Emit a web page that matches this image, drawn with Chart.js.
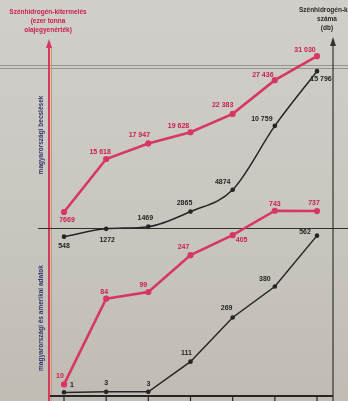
<!DOCTYPE html>
<html>
<head>
<meta charset="utf-8">
<script src="https://cdn.jsdelivr.net/npm/chart.js@4.4.1/dist/chart.umd.min.js"></script>
<style>
  html, body { margin: 0; padding: 0; overflow: hidden; }
  body { width: 348px; height: 401px; background: linear-gradient(180deg, #d1cfca 0%, #c9c6c0 55%, #c0bcb4 100%); }
  canvas { display: block; }
</style>
</head>
<body>
<canvas id="chart" width="348" height="401"></canvas>
<script>
// periods along the x axis (not printed in the picture)
const periods = ['1', '2', '3', '4', '5', '6', '7'];

// upper panel
const upperRed = [7669, 15618, 17947, 19628, 22383, 27436, 31030];
const upperBlack = [548, 1272, 1469, 2865, 4874, 10759, 15796];
// lower panel
const lowerRed = [10, 84, 99, 247, 405, 743, 737];
const lowerBlack = [1, 3, 3, 111, 269, 380, 562];

const upperRedLabels = ['7669', '15 618', '17 947', '19 628', '22 383', '27 436', '31 030'];
const upperBlackLabels = ['548', '1272', '1469', '2865', '4874', '10 759', '15 796'];
const lowerRedLabels = ['10', '84', '99', '247', '405', '743', '737'];
const lowerBlackLabels = ['1', '3', '3', '111', '269', '380', '562'];

const RED = '#d63862';
const RED_TEXT = '#c8204c';
const BLACK = '#262626';

// where each value label sits relative to its point
const offUR = [[3, 8], [-6, -7], [-9, -8], [-12, -6], [-10, -9], [-12, -5], [-12, -6]];
const offUB = [[0, 9], [1, 11], [-3, -9], [-6, -8], [-10, -8], [-13, -7], [4, 8]];
const offLR = [[-4, -8], [-2, -7], [-5, -7], [-7, -8], [9, 5], [0, -7], [-3, -8]];
const offLB = [[8, -7], [0, -9], [0, -8], [-4, -9], [-6, -9], [-10, -7], [-12, -4]];

const valueLabels = {
  id: 'valueLabels',
  afterDatasetsDraw(chart) {
    const ctx = chart.ctx;
    ctx.save();
    ctx.font = 'bold 7px "Liberation Sans", Arial, sans-serif';
    ctx.textAlign = 'center';
    ctx.textBaseline = 'middle';
    chart.data.datasets.forEach((ds, i) => {
      const meta = chart.getDatasetMeta(i);
      ctx.fillStyle = ds.labelColor;
      meta.data.forEach((pt, j) => {
        const o = ds.labelOffsets[j];
        ctx.fillText(ds.valueTexts[j], pt.x + o[0], pt.y + o[1]);
      });
    });
    ctx.restore();
  }
};

const frame = {
  id: 'frame',
  beforeDatasetsDraw(chart) {
    const ctx = chart.ctx;
    const x = chart.scales.x;
    ctx.save();

    // faint double rule near the top
    ctx.strokeStyle = 'rgba(80,80,80,0.45)';
    ctx.lineWidth = 1;
    [65.5, 68.5].forEach(y => {
      ctx.beginPath(); ctx.moveTo(0, y); ctx.lineTo(348, y); ctx.stroke();
    });

    // left (red) axis
    ctx.strokeStyle = '#c99a64';
    ctx.lineWidth = 1;
    ctx.beginPath(); ctx.moveTo(51.5, 46); ctx.lineTo(51.5, 401); ctx.stroke();
    ctx.strokeStyle = RED;
    ctx.lineWidth = 2;
    ctx.beginPath(); ctx.moveTo(49, 46); ctx.lineTo(49, 401); ctx.stroke();
    ctx.fillStyle = RED;
    ctx.beginPath(); ctx.moveTo(49, 39); ctx.lineTo(46, 48); ctx.lineTo(52, 48); ctx.closePath(); ctx.fill();

    // right (black) axis
    ctx.strokeStyle = '#333';
    ctx.lineWidth = 1.2;
    ctx.beginPath(); ctx.moveTo(333, 44); ctx.lineTo(333, 401); ctx.stroke();
    ctx.fillStyle = '#333';
    ctx.beginPath(); ctx.moveTo(333, 37); ctx.lineTo(330, 46); ctx.lineTo(336, 46); ctx.closePath(); ctx.fill();

    // divider between the two panels
    ctx.strokeStyle = '#2e2e2e';
    ctx.lineWidth = 1.2;
    ctx.beginPath(); ctx.moveTo(38, 228.5); ctx.lineTo(348, 228.5); ctx.stroke();

    // bottom axis with ticks
    ctx.strokeStyle = BLACK;
    ctx.lineWidth = 2;
    ctx.beginPath(); ctx.moveTo(50, 396); ctx.lineTo(333, 396); ctx.stroke();
    ctx.lineWidth = 1.2;
    periods.forEach((p, i) => {
      const px = x.getPixelForValue(i);
      ctx.beginPath(); ctx.moveTo(px, 395); ctx.lineTo(px, 401); ctx.stroke();
    });

    // titles
    ctx.textAlign = 'center';
    ctx.textBaseline = 'middle';
    ctx.font = 'bold 6.5px "Liberation Sans", Arial, sans-serif';
    ctx.fillStyle = RED_TEXT;
    ctx.fillText('Szénhidrogén-kitermelés', 48, 12);
    ctx.fillText('(ezer tonna', 48, 21);
    ctx.fillText('olajegyenérték)', 48, 30);
    ctx.fillStyle = '#2a2a2a';
    ctx.fillText('Szénhidrogén-kutak', 330, 10);
    ctx.fillText('száma', 327, 19);
    ctx.fillText('(db)', 327, 28);

    // rotated side labels
    ctx.fillStyle = '#34306a';
    ctx.font = 'bold 6.5px "Liberation Sans", Arial, sans-serif';
    [['magyarországi becslések', 135], ['magyarországi és amerikai adatok', 318]].forEach(([t, cy]) => {
      ctx.save();
      ctx.translate(41, cy);
      ctx.rotate(-Math.PI / 2);
      ctx.fillText(t, 0, 0);
      ctx.restore();
    });
    ctx.restore();
  }
};

new Chart(document.getElementById('chart'), {
  type: 'line',
  data: {
    labels: periods,
    datasets: [
      {
        data: upperRed, yAxisID: 'yUR', borderColor: RED, backgroundColor: RED,
        borderWidth: 2.6, pointRadius: 1.8, tension: 0,
        valueTexts: upperRedLabels, labelOffsets: offUR, labelColor: RED_TEXT
      },
      {
        data: upperBlack, yAxisID: 'yUB', borderColor: BLACK, backgroundColor: BLACK,
        borderWidth: 1.5, pointRadius: 1.6, tension: 0.25, cubicInterpolationMode: 'monotone',
        valueTexts: upperBlackLabels, labelOffsets: offUB, labelColor: BLACK
      },
      {
        data: lowerRed, yAxisID: 'yLR', borderColor: RED, backgroundColor: RED,
        borderWidth: 2.6, pointRadius: 1.8, tension: 0,
        valueTexts: lowerRedLabels, labelOffsets: offLR, labelColor: RED_TEXT
      },
      {
        data: lowerBlack, yAxisID: 'yLB', borderColor: BLACK, backgroundColor: BLACK,
        borderWidth: 1.5, pointRadius: 1.6, tension: 0,
        valueTexts: lowerBlackLabels, labelOffsets: offLB, labelColor: BLACK
      }
    ]
  },
  options: {
    responsive: false,
    animation: false,
    layout: { padding: { left: 64, right: 31, top: 40, bottom: 6 } },
    plugins: { legend: { display: false }, tooltip: { enabled: false } },
    scales: {
      x: { type: 'category', display: false, offset: false },
      yUR: { type: 'linear', display: false, min: -19681, max: 33463 },
      yUB: { type: 'linear', display: false, min: -13987, max: 18672 },
      yLR: { type: 'logarithmic', display: false, min: 7.81, max: 51300 },
      yLB: { type: 'linear', display: false, min: -6.1, max: 1262 }
    }
  },
  plugins: [frame, valueLabels]
});
</script>
</body>
</html>
